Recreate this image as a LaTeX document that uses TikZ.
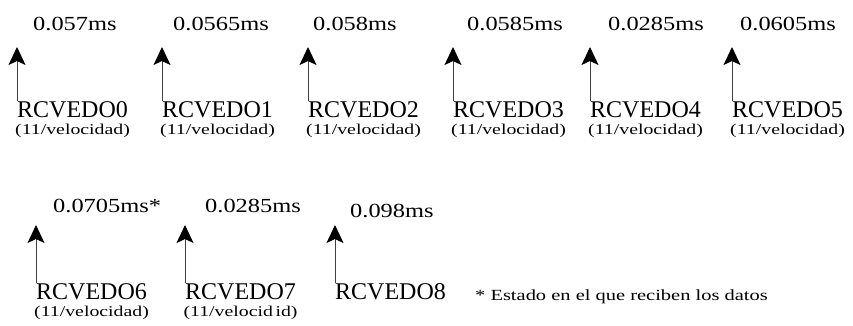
\documentclass[tikz,border=0pt]{standalone}
\usepackage{fontspec}
\setmainfont{Liberation Serif}
\newfontfamily\valfont[FakeStretch=1.22]{Liberation Serif}
\newfontfamily\subfont[FakeStretch=1.32]{Liberation Serif}
\usetikzlibrary{arrows.meta}
\begin{document}
\begin{tikzpicture}[x=1pt,y=-1pt,
  val/.style={anchor=base west,inner sep=0pt,font=\valfont\fontsize{20}{22}\selectfont},
  reg/.style={anchor=base west,inner sep=0pt,font=\fontsize{24}{26}\selectfont},
  sub/.style={anchor=base,inner sep=0pt,font=\subfont\fontsize{15}{17}\selectfont},
  arr/.style={-{Stealth[length=18pt,width=17pt,inset=4pt,black]},line width=0.9pt,black!75},
  note/.style={anchor=base west,inner sep=0pt,font=\subfont\fontsize{15.5}{18}\selectfont}]
\useasboundingbox (0,0) rectangle (853,325);
% row 1
\foreach \i/\x/\vx/\v in {0/17/33/0.057ms, 1/162/173/0.0565ms, 2/308/313/0.058ms, 3/453/467/0.0585ms, 4/590/608/0.0285ms, 5/732/740/0.0605ms}{
  \node[val] (v\i) at (\vx,30) {\v};
  \node[reg] (r\i) at (\x,117) {RCVEDO\i};
  \node[sub] (s\i) at ([yshift=-17pt]r\i.base) {(11/velocidad)};
  \coordinate (t\i) at (\x,47);
  \draw[arr] (r\i.north west) -- (t\i);
}
% row 2
\foreach \i/\x/\vx/\vy/\v in {6/36/53/212/0.0705ms*, 7/185/205/212/0.0285ms, 8/335/350/217/0.098ms}{
  \node[val] (v\i) at (\vx,\vy) {\v};
  \node[reg] (r\i) at (\x,299) {RCVEDO\i};
  \coordinate (t\i) at (\x,225);
  \draw[arr] (r\i.north west) -- (t\i);
}
\node[sub] (s6) at ([yshift=-17pt]r6.base) {(11/velocidad)};
\node[sub] (s7) at ([yshift=-17pt]r7.base) {(11/velocid\,id)};
\node[note] (n) at (475,300) {* Estado en el que reciben los datos};
\end{tikzpicture}
\end{document}
